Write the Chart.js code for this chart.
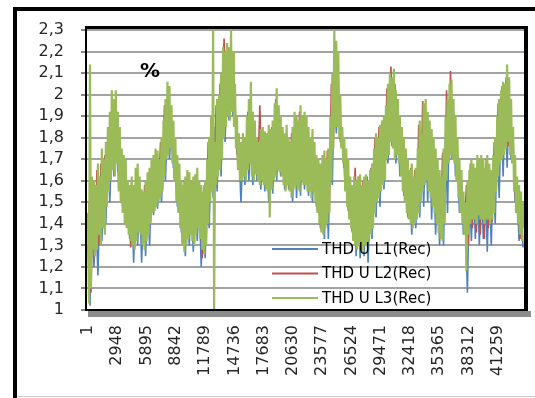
<!DOCTYPE html>
<html>
<head>
<meta charset="utf-8">
<script src="https://cdn.jsdelivr.net/npm/chart.js@4/dist/chart.umd.min.js"></script>
<style>
  html, body { margin: 0; padding: 0; background: #fff; }
  canvas { display: block; }
</style>
</head>
<body>
<canvas id="thd" width="535" height="398"></canvas>
<script>
// Series names as recorded by the analyser
const SERIES_NAMES = ['THD U L1(Rec)', 'THD U L2(Rec)', 'THD U L3(Rec)'];
const UNIT_LABEL = '%';

// Axis ticks
const Y_TICKS = [1, 1.1, 1.2, 1.3, 1.4, 1.5, 1.6, 1.7, 1.8, 1.9, 2, 2.1, 2.2, 2.3];
const X_TICK_LABELS = [1, 2948, 5895, 8842, 11789, 14736, 17683, 20630, 23577, 26524,
                       29471, 32418, 35365, 38312, 41259];
const X_RANGE = [-200, 44000];

// Record numbering of each reduced series (first record, records between values)
const L1_FIRST = 1,   L1_STEP = 200;
const L2_FIRST = 101, L2_STEP = 200;
const L3_FIRST = 1,   L3_STEP = 100;

// THD U L1 (%), alternating local maxima / minima
const L1 = [
  1.30,1.02, 1.50,1.20, 1.45,1.16, 1.55,1.32, 1.60,1.40, 1.75,1.50, 1.85,1.62, 1.90,1.64, 1.75,1.50, 1.62,1.40,
  1.55,1.33, 1.52,1.22, 1.58,1.30, 1.55,1.22, 1.50,1.25, 1.55,1.30, 1.62,1.44, 1.65,1.47, 1.62,1.50, 1.75,1.60,
  1.90,1.70, 1.85,1.66, 1.70,1.48, 1.60,1.36, 1.52,1.25, 1.55,1.30, 1.55,1.27, 1.55,1.32, 1.52,1.20, 1.50,1.24,
  1.60,1.38, 1.75,1.52, 1.85,1.55, 1.92,1.62, 2.00,1.78, 2.05,1.88, 2.06,1.90, 1.95,1.72, 1.75,1.50, 1.75,1.58,
  1.80,1.60, 1.85,1.58, 1.80,1.60, 1.75,1.56, 1.78,1.55, 1.75,1.50, 1.78,1.54, 1.85,1.60, 1.88,1.62, 1.80,1.56,
  1.78,1.56, 1.72,1.50, 1.80,1.52, 1.82,1.53, 1.85,1.56, 1.82,1.53, 1.76,1.50, 1.70,1.48, 1.62,1.38, 1.62,1.33,
  1.65,1.33, 1.80,1.58, 2.10,1.82, 2.05,1.78, 1.78,1.66, 1.68,1.46, 1.55,1.36, 1.55,1.25, 1.55,1.24, 1.52,1.25,
  1.55,1.22, 1.58,1.33, 1.68,1.43, 1.75,1.48, 1.80,1.56, 1.85,1.68, 2.00,1.76, 2.02,1.68, 1.92,1.62, 1.78,1.53,
  1.68,1.43, 1.60,1.35, 1.60,1.38, 1.68,1.43, 1.80,1.48, 1.88,1.50, 1.80,1.42, 1.72,1.35, 1.62,1.30, 1.58,1.30,
  1.82,1.45, 1.95,1.70, 1.92,1.62, 1.72,1.45, 1.60,1.35, 1.45,1.08, 1.58,1.32, 1.62,1.33, 1.65,1.30, 1.64,1.33,
  1.60,1.27, 1.62,1.30, 1.66,1.40, 1.82,1.52, 1.95,1.62, 2.00,1.66, 2.00,1.70, 1.78,1.50, 1.58,1.32, 1.50,1.29
];

// THD U L2 (%)
const L2 = [
  1.50,1.08, 1.55,1.27, 1.65,1.30, 1.68,1.39, 1.72,1.49, 1.85,1.61, 1.95,1.63, 1.88,1.56, 1.72,1.46, 1.65,1.39,
  1.58,1.29, 1.56,1.29, 1.62,1.37, 1.55,1.31, 1.58,1.33, 1.63,1.41, 1.68,1.47, 1.70,1.51, 1.78,1.56, 1.95,1.71,
  2.00,1.76, 1.85,1.61, 1.70,1.46, 1.58,1.31, 1.60,1.31, 1.62,1.36, 1.60,1.31, 1.62,1.39, 1.55,1.24, 1.58,1.31,
  1.78,1.51, 1.88,1.56, 1.95,1.63, 2.05,1.88, 2.26,1.90, 2.22,1.89, 2.15,1.86, 1.88,1.66, 1.76,1.61, 1.78,1.61,
  1.92,1.69, 1.90,1.61, 1.78,1.61, 1.95,1.61, 1.80,1.57, 1.82,1.56, 1.85,1.61, 1.98,1.66, 1.88,1.63, 1.80,1.56,
  1.78,1.56, 1.82,1.57, 1.88,1.57, 1.92,1.61, 1.90,1.59, 1.83,1.56, 1.80,1.56, 1.70,1.46, 1.66,1.37, 1.72,1.39,
  1.74,1.46, 2.05,1.76, 2.20,1.86, 1.98,1.76, 1.78,1.56, 1.68,1.43, 1.57,1.33, 1.66,1.29, 1.62,1.29, 1.60,1.31,
  1.62,1.33, 1.66,1.39, 1.80,1.51, 1.85,1.56, 1.88,1.61, 2.03,1.73, 2.13,1.76, 2.05,1.73, 1.88,1.63, 1.78,1.51,
  1.68,1.43, 1.66,1.39, 1.65,1.43, 1.86,1.51, 1.97,1.59, 1.90,1.56, 1.82,1.49, 1.73,1.41, 1.63,1.34, 1.73,1.41,
  2.02,1.69, 2.11,1.71, 1.88,1.61, 1.68,1.46, 1.53,1.36, 1.58,1.30, 1.68,1.38, 1.65,1.36, 1.68,1.35, 1.68,1.33,
  1.70,1.38, 1.64,1.41, 1.78,1.56, 1.96,1.69, 2.04,1.73, 2.08,1.76, 1.96,1.69, 1.70,1.46, 1.56,1.33, 1.48,1.39
];

// THD U L3 (%)
const L3 = [
  1.45,1.03, 2.14,1.10, 1.62,1.28, 1.60,1.25, 1.58,1.28, 1.68,1.35, 1.62,1.30, 1.75,1.38, 1.70,1.35, 1.78,1.48,
  1.85,1.55, 1.92,1.60, 2.02,1.65, 1.98,1.62, 2.02,1.68, 1.92,1.55, 1.85,1.50, 1.75,1.45, 1.72,1.40, 1.70,1.38,
  1.60,1.35, 1.58,1.32, 1.62,1.30, 1.58,1.28, 1.66,1.32, 1.68,1.36, 1.62,1.35, 1.56,1.30, 1.55,1.28, 1.60,1.32,
  1.64,1.35, 1.66,1.40, 1.70,1.45, 1.72,1.46, 1.75,1.48, 1.74,1.50, 1.70,1.52, 1.80,1.55, 1.88,1.62, 1.98,1.70,
  2.06,1.72, 2.04,1.75, 1.95,1.68, 1.88,1.60, 1.80,1.50, 1.72,1.45, 1.68,1.38, 1.60,1.30, 1.58,1.27, 1.62,1.30,
  1.65,1.33, 1.64,1.35, 1.60,1.32, 1.62,1.30, 1.63,1.35, 1.66,1.38, 1.60,1.33, 1.58,1.28, 1.55,1.26, 1.60,1.30,
  1.70,1.40, 1.80,1.50, 1.90,1.55, 2.31,1.00, 1.78,1.58, 1.98,1.62, 2.00,1.65, 2.10,1.70, 2.22,1.80, 2.20,1.85,
  2.24,1.90, 2.22,1.88, 2.30,1.92, 2.20,1.85, 2.05,1.75, 1.90,1.65, 1.82,1.60, 1.78,1.60, 1.82,1.62, 1.80,1.60,
  1.90,1.65, 1.98,1.68, 2.06,1.62, 1.92,1.60, 1.88,1.63, 1.80,1.60, 1.78,1.58, 1.84,1.60, 1.85,1.58, 1.83,1.56,
  1.82,1.55, 1.86,1.43, 1.84,1.56, 1.88,1.60, 1.96,1.62, 2.03,1.65, 1.95,1.64, 1.90,1.62, 1.85,1.58, 1.82,1.55,
  1.86,1.58, 1.80,1.55, 1.78,1.52, 1.85,1.56, 1.92,1.58, 1.90,1.56, 1.88,1.55, 1.95,1.60, 1.90,1.58, 1.92,1.58,
  1.90,1.55, 1.85,1.55, 1.80,1.52, 1.84,1.55, 1.78,1.50, 1.72,1.45, 1.70,1.40, 1.68,1.36, 1.72,1.35, 1.74,1.38,
  1.70,1.40, 1.75,1.45, 1.90,1.60, 2.10,1.75, 2.30,1.85, 2.25,1.85, 2.20,1.80, 2.00,1.75, 1.85,1.68, 1.80,1.55,
  1.75,1.48, 1.70,1.42, 1.62,1.38, 1.58,1.32, 1.62,1.30, 1.60,1.28, 1.62,1.30, 1.63,1.28, 1.58,1.27, 1.62,1.30,
  1.63,1.30, 1.60,1.32, 1.65,1.35, 1.68,1.38, 1.75,1.45, 1.82,1.50, 1.80,1.52, 1.86,1.55, 1.88,1.58, 1.90,1.60,
  1.95,1.70, 2.05,1.72, 2.10,1.78, 2.08,1.75, 2.12,1.70, 2.02,1.72, 1.98,1.68, 1.90,1.62, 1.85,1.55, 1.80,1.50,
  1.75,1.45, 1.70,1.42, 1.65,1.40, 1.68,1.38, 1.62,1.40, 1.66,1.42, 1.75,1.45, 1.88,1.50, 1.82,1.55, 1.96,1.58,
  1.98,1.60, 1.92,1.55, 1.88,1.52, 1.84,1.48, 1.80,1.45, 1.75,1.40, 1.70,1.36, 1.65,1.33, 1.62,1.32, 1.75,1.40,
  1.90,1.60, 1.98,1.68, 2.05,1.72, 2.07,1.70, 1.98,1.68, 1.90,1.60, 1.80,1.52, 1.70,1.45, 1.65,1.40, 1.55,1.35,
  1.50,1.18, 1.60,1.35, 1.65,1.40, 1.70,1.42, 1.68,1.42, 1.66,1.40, 1.72,1.44, 1.70,1.42, 1.72,1.42, 1.70,1.40,
  1.66,1.42, 1.72,1.42, 1.68,1.40, 1.65,1.42, 1.72,1.45, 1.80,1.55, 1.90,1.62, 1.98,1.68, 2.02,1.70, 2.06,1.72,
  2.05,1.75, 2.14,1.78, 2.08,1.72, 1.98,1.68, 1.85,1.55, 1.72,1.45, 1.62,1.40, 1.58,1.35, 1.55,1.32, 1.50,1.38
];

const COLORS = ['#4F81BD', '#C0504D', '#9BBB59'];
const LINE_WIDTHS = [1.6, 1.6, 2.2];
const FONT = 'DejaVu Sans';

// attach record numbers to the readings
function toPoints(values, first, step) {
  return values.map((v, i) => ({ x: first + i * step, y: v }));
}

function fmtY(v) {
  return Number.isInteger(v) ? String(v) : v.toFixed(1).replace('.', ',');
}

// Sheet frame, plot frame with drop shadow, unit label and legend
const sheetDecor = {
  id: 'sheetDecor',
  beforeDraw(chart) {
    const ctx = chart.ctx;
    ctx.save();
    ctx.fillStyle = '#fff';
    ctx.fillRect(0, 0, chart.width, chart.height);
    ctx.fillStyle = '#000';
    ctx.fillRect(13, 7, 4, chart.height - 7);
    ctx.fillRect(13, 7, chart.width - 13, 4);
    ctx.fillStyle = '#c8c8c8';
    ctx.fillRect(17, chart.height - 2, chart.width - 17, 1);
    ctx.restore();
  },
  afterDatasetsDraw(chart) {
    const ctx = chart.ctx;
    const a = chart.chartArea;
    const x0 = a.left + 186, y0 = a.top + 219, gap = 24.5;
    ctx.save();
    ctx.font = '15px "' + FONT + '"';
    ctx.textBaseline = 'middle';
    ctx.textAlign = 'left';
    chart.data.datasets.forEach((ds, i) => {
      const y = y0 + i * gap;
      ctx.strokeStyle = ds.borderColor;
      ctx.lineWidth = 2;
      ctx.beginPath();
      ctx.moveTo(x0, y);
      ctx.lineTo(x0 + 46, y);
      ctx.stroke();
      ctx.fillStyle = '#000';
      ctx.fillText(ds.label, x0 + 50, y + 1);
    });
    ctx.restore();
  },
  afterDraw(chart) {
    const ctx = chart.ctx;
    const a = chart.chartArea;
    ctx.save();
    // drop shadow under the plot
    ctx.fillStyle = '#8c8c8c';
    ctx.fillRect(a.left + 2, a.bottom + 1, a.right - a.left + 4, 6);
    // plot border
    ctx.fillStyle = '#000';
    ctx.fillRect(a.left - 1, a.top - 4, a.right - a.left + 4, 3);
    ctx.fillRect(a.right - 1, a.top - 4, 4, a.bottom - a.top + 5);
    ctx.fillRect(a.left - 1, a.top - 4, 2, a.bottom - a.top + 5);
    ctx.fillRect(a.left - 1, a.bottom - 1, a.right - a.left + 4, 2);
    // unit
    ctx.font = 'bold 20px "' + FONT + '"';
    ctx.textAlign = 'center';
    ctx.textBaseline = 'middle';
    ctx.fillStyle = '#000';
    ctx.fillText(UNIT_LABEL, a.left + 64, a.top + 42);
    ctx.restore();
  }
};

const series = [
  { name: SERIES_NAMES[0], data: toPoints(L1, L1_FIRST, L1_STEP), order: 3 },
  { name: SERIES_NAMES[1], data: toPoints(L2, L2_FIRST, L2_STEP), order: 2 },
  { name: SERIES_NAMES[2], data: toPoints(L3, L3_FIRST, L3_STEP), order: 1 }
];

new Chart(document.getElementById('thd'), {
  type: 'line',
  data: {
    datasets: series.map((s, i) => ({
      label: s.name,
      data: s.data,
      borderColor: COLORS[i],
      backgroundColor: COLORS[i],
      borderWidth: LINE_WIDTHS[i],
      borderJoinStyle: 'bevel',
      pointRadius: 0,
      tension: 0,
      fill: false,
      order: s.order,
      clip: 4
    }))
  },
  options: {
    responsive: false,
    devicePixelRatio: 1,
    animation: false,
    parsing: false,
    normalized: true,
    layout: { padding: { left: 0, top: 30, right: 10, bottom: 0 } },
    plugins: {
      legend: { display: false },
      tooltip: { enabled: false },
      title: { display: false }
    },
    scales: {
      x: {
        type: 'linear',
        min: X_RANGE[0],
        max: X_RANGE[1],
        afterBuildTicks(axis) { axis.ticks = X_TICK_LABELS.map(v => ({ value: v })); },
        afterFit(axis) { axis.height = 88; },
        grid: { display: false, drawTicks: false },
        border: { display: false },
        ticks: {
          autoSkip: false,
          minRotation: 90,
          maxRotation: 90,
          padding: 15,
          color: '#262626',
          font: { family: FONT, size: 16 },
          callback: v => String(v)
        }
      },
      y: {
        min: Y_TICKS[0],
        max: Y_TICKS[Y_TICKS.length - 1],
        afterBuildTicks(axis) { axis.ticks = Y_TICKS.map(v => ({ value: v })); },
        afterFit(axis) { axis.width = 86; },
        grid: { color: '#a3a3a3', lineWidth: 2, drawTicks: true, tickLength: 5, tickColor: '#8a8a8a' },
        border: { display: false },
        ticks: {
          autoSkip: false,
          padding: 17,
          color: '#262626',
          font: { family: FONT, size: 16 },
          callback: v => fmtY(v)
        }
      }
    }
  },
  plugins: [sheetDecor]
});
</script>
</body>
</html>
